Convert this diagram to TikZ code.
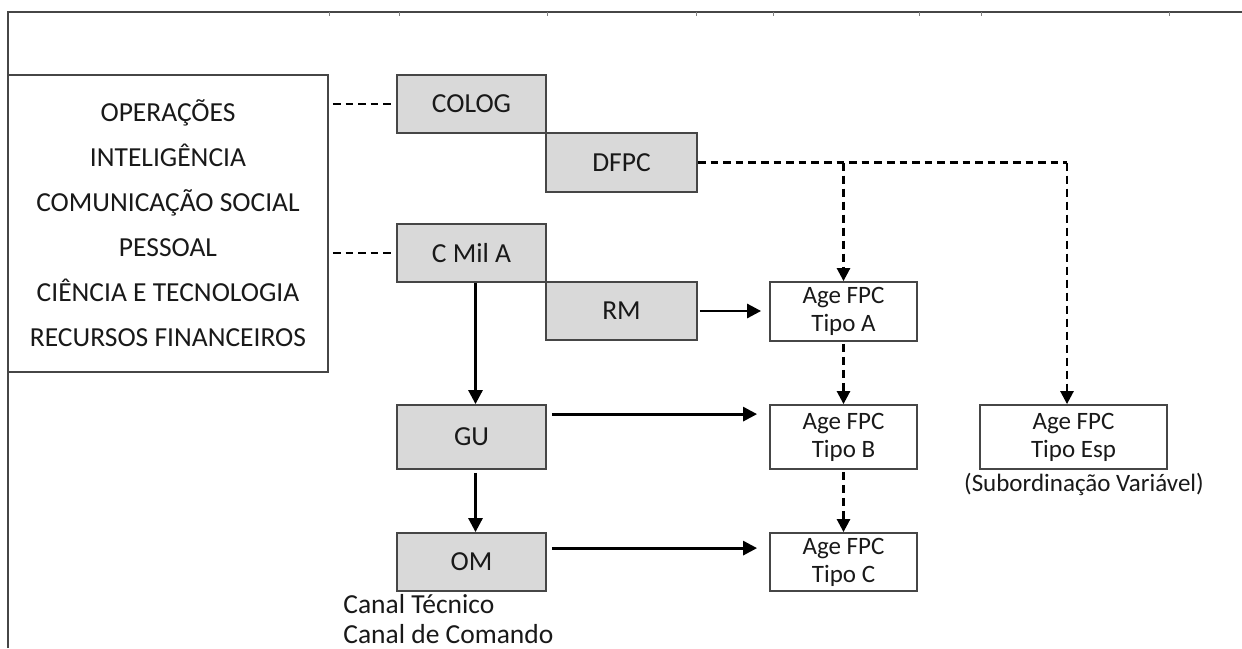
\documentclass[tikz,border=0pt]{standalone}
\usepackage{fontspec}
\setmainfont{Carlito}
\usetikzlibrary{arrows.meta}
\definecolor{boxgray}{RGB}{217,217,217}
\definecolor{edgegray}{RGB}{70,70,70}
\definecolor{txt}{RGB}{25,25,25}
\tikzset{
  graybox/.style={draw=edgegray, line width=0.9pt, fill=boxgray, inner sep=0pt,
    minimum width=74.5pt, minimum height=29pt, text=txt,
    font=\fontsize{13.75}{16}\selectfont},
  agebox/.style={draw=edgegray, line width=0.9pt, fill=white, inner sep=0pt, align=center,
    minimum width=73.5pt, minimum height=29.5pt, text=txt,
    font=\fontsize{12.5}{14}\selectfont},
  solidarrow/.style={line width=1.4pt, -{Triangle[length=7pt,width=7pt]}},
  dasharrow/.style={line width=1.3pt, dash pattern=on 4pt off 2.5pt, -{Triangle[length=6.5pt,width=6.5pt]}},
  dashline/.style={line width=1.3pt, dash pattern=on 3.8pt off 2.5pt},
  plaintext/.style={inner sep=0pt, text=txt},
}
\begin{document}
\begin{tikzpicture}[x=0.5pt, y=-0.5pt]
\useasboundingbox (0,0) rectangle (1242,648);
\fill[white] (0,0) rectangle (1242,648);
% outer frame
\draw[edgegray, line width=0.9pt] (8,648) -- (8,12) -- (1242,12);
\foreach \tx in {329,399,547,696,773,919,981,1169}
  \draw[gray, line width=0.4pt] (\tx,12) -- (\tx,16);

% left box
\node[draw=edgegray, line width=0.9pt, fill=white, inner sep=0pt, align=center,
  minimum width=160pt, minimum height=148.5pt, text=txt,
  font=\fontsize{13.75}{22.5}\selectfont] (areas) at (168,223.5)
  {OPERAÇÕES\\INTELIGÊNCIA\\COMUNICAÇÃO SOCIAL\\PESSOAL\\CIÊNCIA E TECNOLOGIA\\RECURSOS FINANCEIROS};

% gray boxes
\node[graybox] (colog) at (471.5,104) {COLOG};
\node[graybox, minimum width=75.5pt, minimum height=29.5pt] (dfpc) at (621.5,162.5) {DFPC};
\node[graybox] (cmila) at (471.5,253) {C Mil A};
\node[graybox, minimum width=75.5pt] (rm) at (621.5,311) {RM};
\node[graybox, minimum height=32pt] (gu) at (471.5,437) {GU};
\node[graybox] (om) at (471.5,562) {OM};

% Age FPC boxes
\node[agebox] (agea) at (843.5,311.5) {Age FPC\\Tipo A};
\node[agebox, minimum height=32pt] (ageb) at (843.5,437) {Age FPC\\Tipo B};
\node[agebox, minimum height=29pt] (agec) at (843.5,562) {Age FPC\\Tipo C};
\node[agebox, minimum width=93.5pt, minimum height=32pt] (ageesp) at (1073.5,437) {Age FPC\\Tipo Esp};
\node[plaintext, font=\fontsize{12.5}{14}\selectfont] (subvar) at (1084,484) {(Subordinação Variável)};

% legend
\node[plaintext, anchor=west, font=\fontsize{13.75}{16}\selectfont] (canaltec) at (343,604) {Canal Técnico};
\node[plaintext, anchor=west, font=\fontsize{13.75}{16}\selectfont] (canalcmd) at (343,634) {Canal de Comando};

% dashed links from the left box
\draw[dashline, shorten <=2pt, shorten >=2pt] (areas.east |- colog.west) -- (colog.west);
\draw[dashline, shorten <=2pt, shorten >=2pt] (areas.east |- cmila.west) -- (cmila.west);

% technical channel (dashed)
\coordinate (jesp) at (1067,162.5);
\coordinate (ja) at (843.5,162.5);
\draw[dashline] (dfpc.east) -- (jesp);
\draw[dasharrow] (jesp) -- (jesp |- ageesp.north);
\draw[dasharrow] (ja) -- (agea.north);
\draw[dasharrow, shorten <=1pt] (agea.south) -- (ageb.north);
\draw[dasharrow, shorten <=1pt] (ageb.south) -- (agec.north);

% command channel (solid)
\draw[solidarrow, shorten <=1pt, shorten >=4pt] (rm.east) -- (agea.west |- rm.east);
\draw[solidarrow] ([shift={(5,10)}]gu.north east) -- ([shift={(-12,10)}]ageb.north west);
\draw[solidarrow] ([shift={(5,16)}]om.north east) -- ([shift={(-12,16)}]agec.north west);
\draw[solidarrow] ([xshift=2pt]cmila.south) -- ([xshift=2pt]gu.north);
\draw[solidarrow, shorten <=1.5pt] ([xshift=2pt]gu.south) -- ([xshift=2pt]om.north);
\end{tikzpicture}
\end{document}
